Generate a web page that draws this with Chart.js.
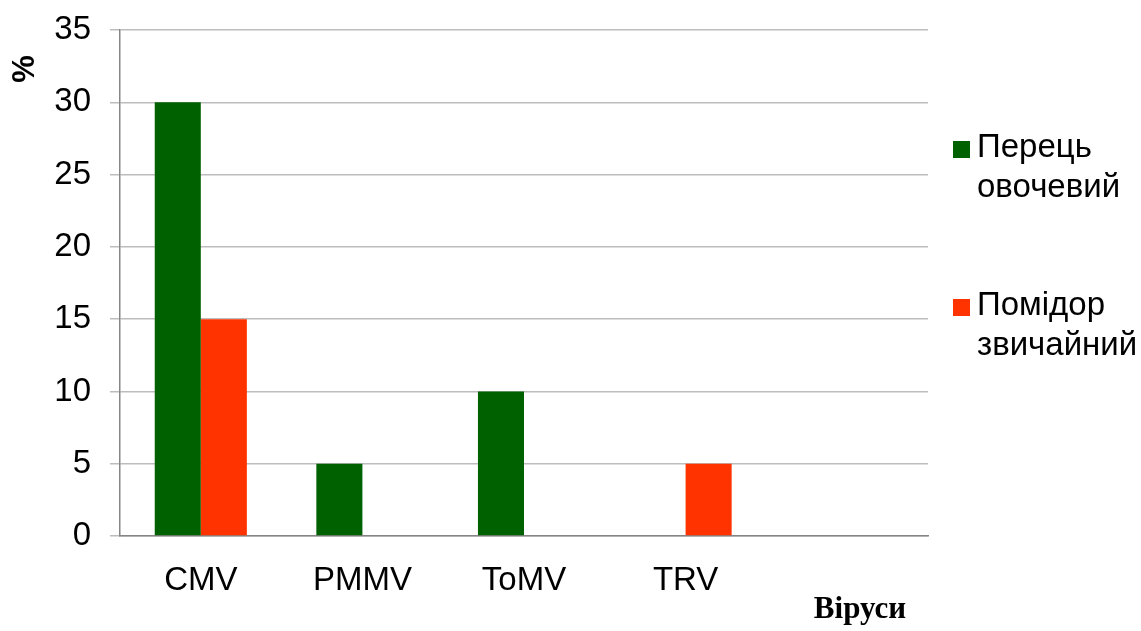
<!DOCTYPE html>
<html>
<head>
<meta charset="utf-8">
<script src="https://cdn.jsdelivr.net/npm/chart.js@4/dist/chart.umd.min.js"></script>
<style>
  html, body { margin: 0; padding: 0; background: #fff; }
  #wrap { width: 1141px; height: 631px; position: relative; }
</style>
</head>
<body>
<div id="wrap"><canvas id="chart" width="1141" height="631"></canvas></div>
<script>
// categories (last one is an empty slot, as in the original)
const categories = ['CMV', 'PMMV', 'ToMV', 'TRV', ''];
const seriesNames = ['Перець овочевий', 'Помідор звичайний'];
const pepperValues = [30, 5, 10, 0, 0];
const tomatoValues = [15, 0, 0, 5, 0];
const seriesColors = ['#006100', '#ff3300'];
const yTicks = [0, 5, 10, 15, 20, 25, 30, 35];
const yTitle = '%';
const xTitle = 'Віруси';

const FONT = 'Liberation Sans, Arial, sans-serif';

// legend + axis titles drawn by hand, like the office chart
const decorPlugin = {
  id: 'decor',
  afterDraw(chart) {
    const ctx = chart.ctx;
    ctx.save();
    // y title, rotated
    ctx.fillStyle = '#000';
    ctx.font = 'bold 31px ' + FONT;
    ctx.translate(25, 69);
    ctx.rotate(-Math.PI / 2);
    ctx.textAlign = 'center';
    ctx.textBaseline = 'middle';
    ctx.fillText(yTitle, 0, 0);
    ctx.restore();

    ctx.save();
    ctx.fillStyle = '#000';
    ctx.font = 'bold 31px Liberation Serif, Times New Roman, serif';
    ctx.textAlign = 'center';
    ctx.textBaseline = 'middle';
    ctx.fillText(xTitle, 860, 610);

    // legend
    const entryY = [148, 306];
    chart.data.datasets.forEach((ds, i) => {
      const y = entryY[i];
      ctx.fillStyle = ds.backgroundColor;
      ctx.fillRect(953, y - 7, 17, 17);
      ctx.fillStyle = '#000';
      ctx.font = '33px ' + FONT;
      ctx.textAlign = 'left';
      ctx.textBaseline = 'middle';
      ds.label.split(' ').forEach((line, k) => {
        ctx.fillText(line, 977, y + k * 40);
      });
    });
    ctx.restore();
  }
};

new Chart(document.getElementById('chart'), {
  type: 'bar',
  data: {
    labels: categories,
    datasets: [
      { label: seriesNames[0], data: pepperValues, backgroundColor: seriesColors[0] },
      { label: seriesNames[1], data: tomatoValues, backgroundColor: seriesColors[1] }
    ]
  },
  options: {
    responsive: false,
    animation: false,
    layout: { padding: { top: 30, right: 213, left: 0, bottom: 0 } },
    categoryPercentage: 0.57,
    barPercentage: 1.0,
    plugins: {
      legend: { display: false },
      tooltip: { enabled: false }
    },
    scales: {
      x: {
        grid: { display: false, drawTicks: false },
        border: { display: true, color: '#868686', width: 1.5 },
        ticks: { color: '#000', font: { family: FONT, size: 33 }, padding: 25 },
        afterFit(scale) {
          scale.height = 95;
          scale.paddingLeft = 0;
          scale.paddingRight = 0;
        }
      },
      y: {
        min: 0,
        max: 35,
        afterBuildTicks(scale) { scale.ticks = yTicks.map(v => ({ value: v })); },
        grid: { color: '#bdbdbd', lineWidth: 1.5, tickLength: 10 },
        border: { display: true, color: '#868686', width: 1.5 },
        ticks: { color: '#000', font: { family: FONT, size: 33 }, padding: 19 },
        afterFit(scale) {
          scale.width = 120;
          scale.paddingTop = 0;
          scale.paddingBottom = 0;
        }
      }
    }
  },
  plugins: [decorPlugin]
});
</script>
</body>
</html>
